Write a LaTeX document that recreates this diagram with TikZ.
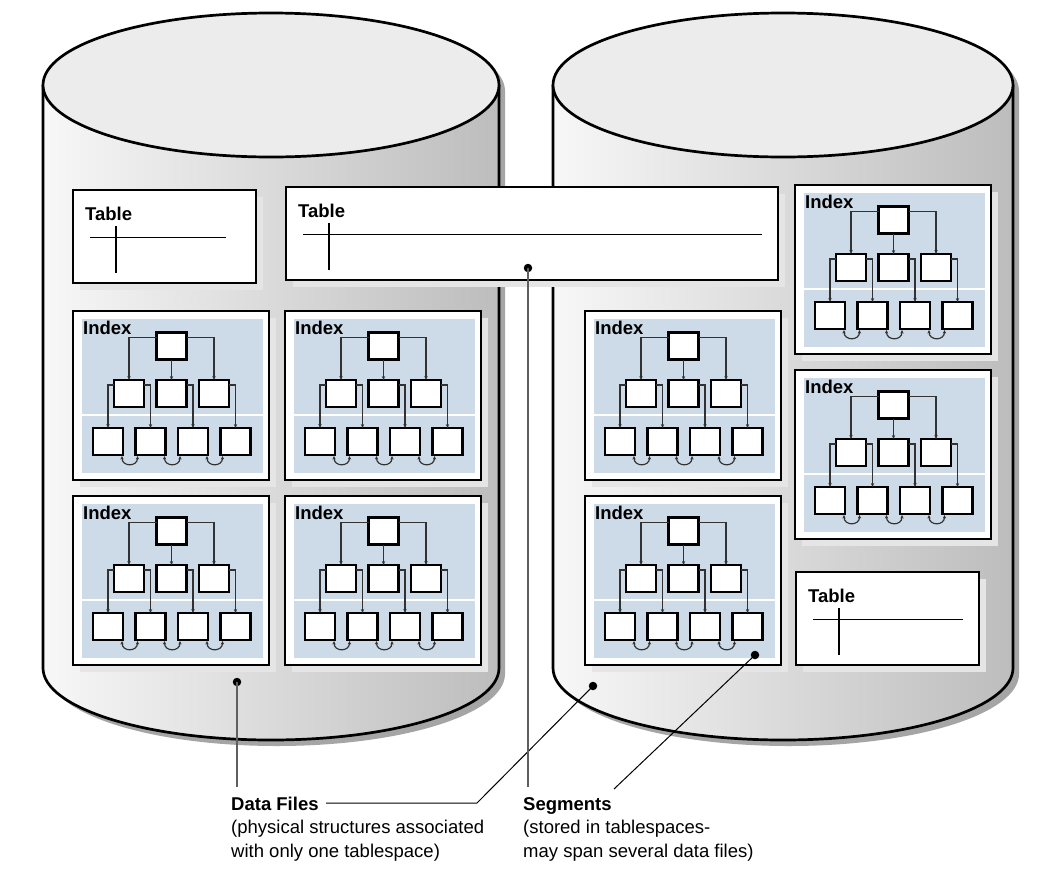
\documentclass[tikz,border=0pt]{standalone}
\usepackage{fontspec}
\setmainfont{Liberation Sans}
\usetikzlibrary{arrows.meta,calc}
\definecolor{idxblue}{RGB}{205,218,231}
\definecolor{boxshadow}{RGB}{229,229,229}
\definecolor{cylshadow}{RGB}{165,165,165}
\definecolor{topgray}{RGB}{236,236,236}
\definecolor{treegray}{RGB}{50,50,50}
\definecolor{leadgray}{RGB}{95,95,95}
\tikzset{
  cylline/.style={line width=2.7pt,black},
  outerbox/.style={line width=2.3pt,black,fill=white},
  kbox/.style={draw=black,line width=2.2pt,fill=white,minimum width=30pt,minimum height=27pt,inner sep=0pt,outer sep=0pt},
  tree/.style={treegray,line width=1.2pt,-{Stealth[length=4pt,width=3.4pt]}},
  uarr/.style={treegray,line width=1.2pt,{Stealth[length=3.5pt,width=3.2pt]}-{Stealth[length=3.5pt,width=3.2pt]}},
  lbl/.style={font=\fontsize{18.5}{22}\bfseries\selectfont,inner sep=0pt},
  txt/.style={font=\fontsize{18.5}{22}\selectfont,inner sep=0pt,anchor=base west},
  dotnode/.style={circle,fill=black,inner sep=0pt,minimum size=8.5pt},
  leadv/.style={leadgray,line width=1.7pt},
  leadd/.style={black,line width=1pt},
  tline/.style={black,line width=1.4pt}
}
\newcommand\idxbox[3]{%
\begin{scope}[shift={(#1,#2)}]
  \fill[boxshadow] (7,7) rectangle (203,176);
  \draw[outerbox] (0,0) rectangle (196,169);
  \fill[idxblue] (8.5,8) rectangle (189.5,162);
  \draw[white,line width=2.5pt] (8.5,104) -- (189.5,104);
  \node[lbl,anchor=base west] (#3-lbl) at (10,23.5) {Index};
  \node[kbox] (#3-t) at (98.5,35) {};
  \node[kbox] (#3-m1) at (56,82.5) {};
  \node[kbox] (#3-m2) at (98.5,82.5) {};
  \node[kbox] (#3-m3) at (141,82.5) {};
  \node[kbox] (#3-l1) at (35,130.5) {};
  \node[kbox] (#3-l2) at (77.5,130.5) {};
  \node[kbox] (#3-l3) at (120,130.5) {};
  \node[kbox] (#3-l4) at (162.5,130.5) {};
  \draw[tree] ($(#3-t.north west)+(0,5)$) -| (#3-m1.north);
  \draw[tree] ($(#3-t.north east)+(0,5)$) -| (#3-m3.north);
  \draw[tree] (#3-t.south) -- (#3-m2.north);
  \draw[tree] ($(#3-m1.north west)+(0,5)$) -| (#3-l1.north);
  \draw[tree] ($(#3-m1.north east)+(0,5)$) -| (#3-l2.north);
  \draw[tree] ($(#3-m2.north east)+(0,5)$) -| (#3-l3.north);
  \draw[tree] ($(#3-m3.north east)+(0,5)$) -| (#3-l4.north);
  \draw[uarr] ($(#3-l1.south east)+(-1,1)$) .. controls +(0,11) and +(0,11) .. ($(#3-l2.south west)+(2,1)$);
  \draw[uarr] ($(#3-l2.south east)+(-1,1)$) .. controls +(0,11) and +(0,11) .. ($(#3-l3.south west)+(2,1)$);
  \draw[uarr] ($(#3-l3.south east)+(-1,1)$) .. controls +(0,11) and +(0,11) .. ($(#3-l4.south west)+(2,1)$);
\end{scope}}
% table box: #1 x, #2 y, #3 width, #4 hline end (relative from right), #5 name
\newcommand\tblbox[5]{%
\begin{scope}[shift={(#1,#2)}]
  \fill[boxshadow] (7,7) rectangle (#3+7,100);
  \draw[outerbox] (0,0) rectangle (#3,93);
  \node[lbl,anchor=base west] (#5-lbl) at (12,30.5) {Table};
  \draw[tline] (17,47.5) -- (#3-#4,47.5);
  \draw[tline] (43,36) -- (43,83);
\end{scope}}
\begin{document}
\begin{tikzpicture}[x=1pt,y=-1pt]
\useasboundingbox (0,0) rectangle (1046,876);
\fill[white] (0,0) rectangle (1046,876);
% cylinder shadows
\fill[cylshadow] (49,91) -- (49,674) arc[start angle=180,end angle=0,x radius=228,y radius=72] -- (505,91) arc[start angle=0,end angle=-180,x radius=228,y radius=72] -- cycle;
\fill[cylshadow] (559,91) -- (559,674) arc[start angle=180,end angle=0,x radius=230,y radius=72] -- (1019,91) arc[start angle=0,end angle=-180,x radius=230,y radius=72] -- cycle;
% left cylinder
\shade[left color=black!3,middle color=black!11,right color=black!26] (43,85) -- (43,668) arc[start angle=180,end angle=0,x radius=228,y radius=72] -- (499,85) -- cycle;
\draw[cylline] (43,85) -- (43,668) arc[start angle=180,end angle=0,x radius=228,y radius=72] -- (499,85);
\draw[cylline,fill=topgray] (271,85) ellipse [x radius=228, y radius=72];
% right cylinder
\shade[left color=black!3,middle color=black!11,right color=black!26] (553,85) -- (553,668) arc[start angle=180,end angle=0,x radius=230,y radius=72] -- (1013,85) -- cycle;
\draw[cylline] (553,85) -- (553,668) arc[start angle=180,end angle=0,x radius=230,y radius=72] -- (1013,85);
\draw[cylline,fill=topgray] (783,85) ellipse [x radius=230, y radius=72];
% tables
\tblbox{73}{190}{183}{30}{tA}
\tblbox{286}{187}{492}{16}{tB}
\tblbox{796}{572}{183}{16}{tC}
% indexes
\idxbox{73}{311}{iA}
\idxbox{285}{311}{iB}
\idxbox{73}{496}{iC}
\idxbox{285}{496}{iD}
\idxbox{585}{311}{iE}
\idxbox{585}{496}{iF}
\idxbox{795}{185}{iG}
\idxbox{795}{370}{iH}
% labels
\node[lbl,anchor=base west] (dflbl) at (231,810) {Data Files};
\node[txt] (dfl2) at (231,833.5) {(physical structures associated};
\node[txt] (dfl3) at (231,857) {with only one tablespace)};
\node[lbl,anchor=base west] (sglbl) at (523,810) {Segments};
\node[txt] (sgl2) at (523,833.5) {(stored in tablespaces-};
\node[txt] (sgl3) at (523,857) {may span several data files)};
% dots and leaders
\node[dotnode] (dfdotA) at (237,682) {};
\node[dotnode] (dfdotB) at (593,686) {};
\node[dotnode] (sgdotA) at (528,268) {};
\node[dotnode] (sgdotB) at (755,655) {};
\coordinate (dfendA) at (237,787);
\coordinate (dfendB0) at (326,803);
\coordinate (dfendB1) at (477,803);
\coordinate (sgendA) at (528,787);
\coordinate (sgendB) at (614,789);
\draw[leadv] (dfdotA.center) -- (dfendA);
\draw[leadd] (dfendB0) -- (dfendB1) -- (dfdotB.center);
\draw[leadv] (sgdotA.center) -- (sgendA);
\draw[leadd] (sgendB) -- (sgdotB.center);
\end{tikzpicture}
\end{document}
